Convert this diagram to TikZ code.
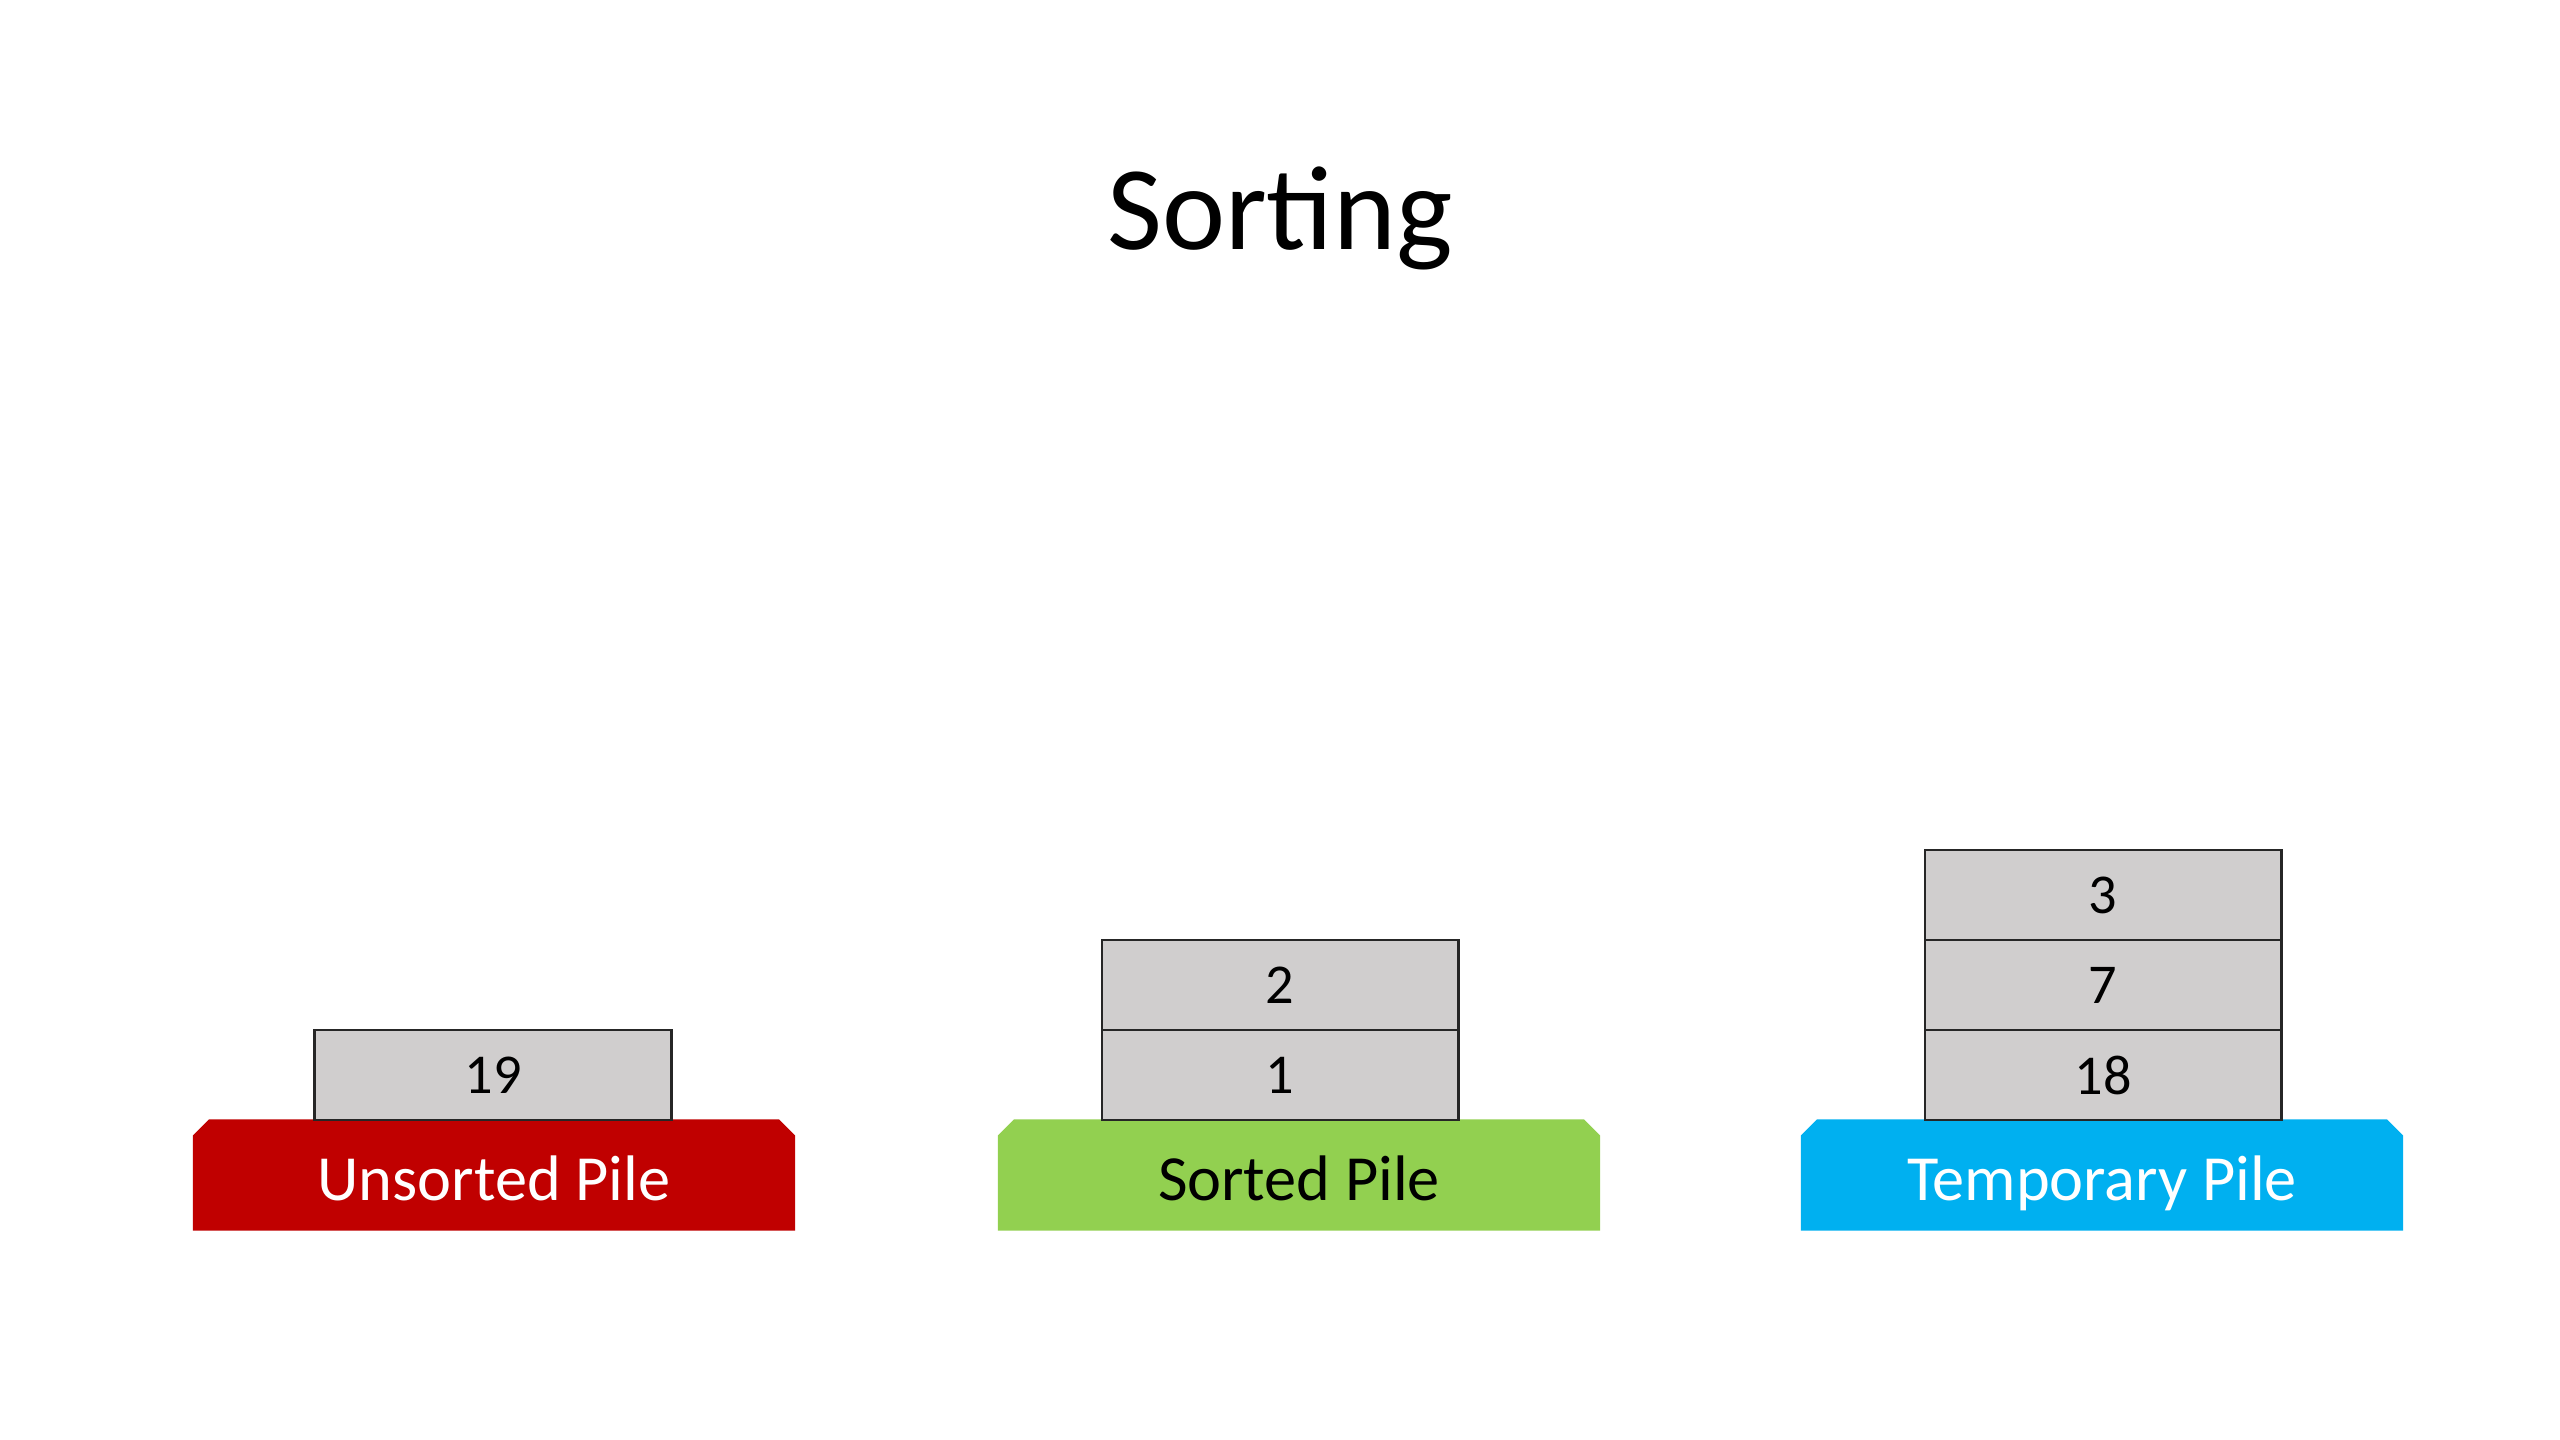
\documentclass[tikz,border=0pt]{standalone}
\usepackage{fontspec}
\setmainfont{Carlito}
\usepackage{tikz}
\usetikzlibrary{shapes.misc}
\definecolor{pileRed}{HTML}{C00000}
\definecolor{pileGreen}{HTML}{92D050}
\definecolor{pileBlue}{HTML}{00B0F0}
\definecolor{cardGray}{HTML}{D0CECE}
\tikzstyle{Card}=[minimum width=3.56cm, minimum height=0.9cm, inner sep=0pt, fill=cardGray, line width=0.8pt, draw=black!85, text=black, font=\fontsize{16}{19}\selectfont]
\tikzstyle{Base}=[minimum width=6.02cm, minimum height=1.11cm, inner sep=0pt, shape=chamfered rectangle, chamfered rectangle corners={north west, north east}, chamfered rectangle xsep=0.08cm, chamfered rectangle ysep=0.08cm, text height=1.45em, text depth=0pt, font=\fontsize{18.3}{22}\selectfont]
\tikzstyle{Title}=[anchor=base, inner sep=0pt, font=\fontsize{34}{41}\selectfont]

\begin{document}
\begin{tikzpicture}[x=0.01cm, y=-0.01cm]
	\fill [white] (0,0) rectangle (2560,1440);
	\useasboundingbox (0,0) rectangle (2560,1440);

	\node [style=Title] (title) at (1280,250) {Sorting};

	% piles
	\node [style=Base, fill=pileRed, text=white] (unsorted) at (494,1175) {Unsorted Pile};
	\node [style=Base, fill=pileGreen, text=black] (sorted) at (1299,1175) {Sorted Pile};
	\node [style=Base, fill=pileBlue, text=white] (temporary) at (2102,1175) {Temporary Pile};

	% cards
	\node [style=Card] (u19) at (493,1075) {19};
	\node [style=Card] (s1) at (1280,1075) {1};
	\node [style=Card] (s2) at (1280,985) {2};
	\node [style=Card] (t18) at (2103,1075) {18};
	\node [style=Card] (t7) at (2103,985) {7};
	\node [style=Card] (t3) at (2103,895) {3};
\end{tikzpicture}
\end{document}
